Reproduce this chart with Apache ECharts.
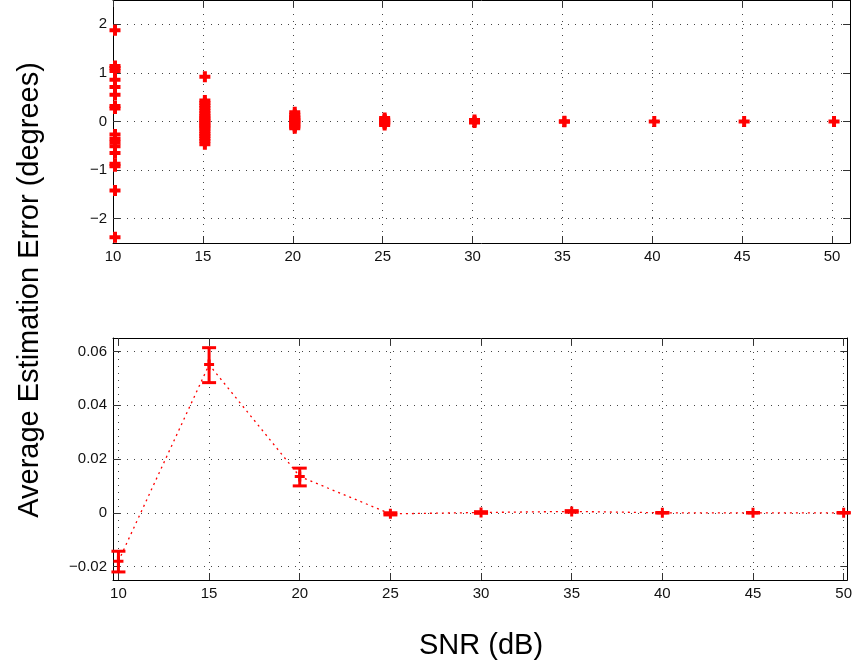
<!DOCTYPE html>
<html>
<head>
<meta charset="utf-8">
<script src="https://cdn.jsdelivr.net/npm/echarts@6/dist/echarts.min.js"></script>
<style>
html,body{margin:0;padding:0;background:#fff;}
#chart{width:855px;height:665px;}
</style>
</head>
<body>
<div id="chart"></div>
<script>
// ---- Data ----
const xTicks = [10, 15, 20, 25, 30, 35, 40, 45, 50];
const yTicksTop = [-2, -1, 0, 1, 2];
const yTicksBottom = [-0.02, 0, 0.02, 0.04, 0.06];

// Top plot: individual estimation errors (degrees) per SNR
const errSnr10 = [1.88, 1.14, 1.10, 1.04, 0.86, 0.71, 0.55, 0.32, 0.27, -0.27, -0.36, -0.43, -0.51, -0.65, -0.87, -0.92, -1.42, -2.38];
const errSnr15 = [0.92, 0.43, 0.38, 0.33, 0.28, 0.22, 0.17, 0.12, 0.08, 0.04, 0.01, -0.03, -0.07, -0.11, -0.15, -0.20, -0.25, -0.30, -0.35, -0.40, -0.47];
const errSnr20 = [0.19, 0.14, 0.10, 0.07, 0.04, 0.02, 0.00, -0.02, -0.05, -0.08, -0.11, -0.14];
const errSnr25 = [0.07, 0.04, 0.02, 0.00, -0.02, -0.04, -0.07];
const errSnr30 = [0.03, 0.00, -0.02];
const errSnr35 = [0.005, -0.005];
const errSnr40 = [0.0];
const errSnr45 = [0.0];
const errSnr50 = [0.0];

// Bottom plot: average error with error bars
const snr = [10, 15, 20, 25, 30, 35, 40, 45, 50];
const meanErr = [-0.0180, 0.0551, 0.0135, -0.0004, 0.0001, 0.0005, 0.0000, 0.0000, 0.0000];
const lowErr  = [-0.0220, 0.0484, 0.0100, -0.0008, -0.0002, 0.0002, -0.0001, -0.0001, -0.0001];
const highErr = [-0.0143, 0.0614, 0.0166, 0.0000, 0.0004, 0.0008, 0.0001, 0.0001, 0.0001];

// ---- Build ----
const topGroups = [errSnr10, errSnr15, errSnr20, errSnr25, errSnr30, errSnr35, errSnr40, errSnr45, errSnr50];
const scatterData = [];
topGroups.forEach((arr, i) => arr.forEach(v => scatterData.push([snr[i], v])));
const meanData = snr.map((s, i) => [s, meanErr[i]]);
const barData = snr.map((s, i) => [s, lowErr[i], highErr[i]]);

const RED = '#ff0000';
const FONT = 'Liberation Sans, Arial, Helvetica, sans-serif';
const plusThick = 'path://M3.5,0h4v3.5h3.5v4h-3.5v3.5h-4v-3.5h-3.5v-4h3.5z';
const plusThin = 'path://M3.5,0h3v3.5h3.5v3h-3.5v3.5h-3v-3.5h-3.5v-3h3.5z';

const gridLine = { show: true, lineStyle: { color: '#444', width: 1, type: [1, 6] } };
const axisLine = { show: true, onZero: false, lineStyle: { color: '#000', width: 1 } };

function xAx(gridIndex, min, max, position, labels) {
  return {
    type: 'value', gridIndex, min, max, position,
    axisLine,
    axisTick: { show: true, inside: true, length: 7, customValues: xTicks, lineStyle: { color: '#333', width: 1 } },
    axisLabel: { show: labels, customValues: xTicks, color: '#111', fontSize: 15, fontFamily: FONT, margin: 6 },
    splitLine: labels ? gridLine : { show: false },
    minorTick: { show: false }
  };
}
function yAx(gridIndex, min, max, ticks, position, labels, fmt) {
  return {
    type: 'value', gridIndex, min, max, position,
    axisLine,
    axisTick: { show: true, inside: true, length: 7, customValues: ticks, lineStyle: { color: '#333', width: 1 } },
    axisLabel: { show: labels, customValues: ticks, color: '#111', fontSize: 15, fontFamily: FONT, margin: 6, formatter: fmt },
    splitLine: labels ? gridLine : { show: false }
  };
}
const fmtTop = v => (v < 0 ? '\u2212' + Math.abs(v) : String(v));
const fmtBot = v => {
  if (Math.abs(v) < 1e-9) return '0';
  const s = Math.abs(v).toFixed(2);
  return (v < 0 ? '\u2212' : '') + s;
};

const chart = echarts.init(document.getElementById('chart'), null, { renderer: 'canvas' });
chart.setOption({
  backgroundColor: '#ffffff',
  animation: false,
  grid: [
    { left: 113, top: 0, width: 737, height: 243 },
    { left: 113, top: 338, width: 735, height: 242 }
  ],
  xAxis: [
    xAx(0, 10, 51, 'bottom', true),
    xAx(0, 10, 51, 'top', false),
    xAx(1, 9.7, 50.2, 'bottom', true),
    xAx(1, 9.7, 50.2, 'top', false)
  ],
  yAxis: [
    yAx(0, -2.5, 2.5, yTicksTop, 'left', true, fmtTop),
    yAx(0, -2.5, 2.5, yTicksTop, 'right', false, fmtTop),
    yAx(1, -0.025, 0.065, yTicksBottom, 'left', true, fmtBot),
    yAx(1, -0.025, 0.065, yTicksBottom, 'right', false, fmtBot)
  ],
  graphic: [
    {
      type: 'text', x: 30, y: 290, rotation: Math.PI / 2,
      style: { text: 'Average Estimation Error (degrees)', fill: '#000', font: '29px ' + FONT, textAlign: 'center', textVerticalAlign: 'middle' }
    },
    {
      type: 'text', x: 481, y: 646,
      style: { text: 'SNR (dB)', fill: '#000', font: '29px ' + FONT, textAlign: 'center', textVerticalAlign: 'middle' }
    }
  ],
  series: [
    {
      type: 'scatter', xAxisIndex: 0, yAxisIndex: 0,
      data: scatterData,
      symbol: plusThick, symbolSize: 11,
      symbolOffset: [2, 0],
      itemStyle: { color: RED, opacity: 1 },
      silent: true
    },
    {
      type: 'line', xAxisIndex: 2, yAxisIndex: 2,
      data: meanData,
      symbol: plusThin, symbolSize: 10, showSymbol: true,
      lineStyle: { color: RED, width: 1.3, type: [2, 4] },
      itemStyle: { color: RED },
      z: 2, silent: true
    },
    {
      type: 'custom', xAxisIndex: 2, yAxisIndex: 2,
      data: barData,
      z: 3, silent: true,
      renderItem: function (params, api) {
        const x = api.value(0), lo = api.value(1), hi = api.value(2);
        const pLo = api.coord([x, lo]);
        const pHi = api.coord([x, hi]);
        const hw = 7;
        const st = { stroke: RED, lineWidth: 3, fill: null };
        return {
          type: 'group',
          children: [
            { type: 'line', shape: { x1: pLo[0], y1: pLo[1], x2: pHi[0], y2: pHi[1] }, style: st },
            { type: 'line', shape: { x1: pLo[0] - hw, y1: pLo[1], x2: pLo[0] + hw, y2: pLo[1] }, style: st },
            { type: 'line', shape: { x1: pHi[0] - hw, y1: pHi[1], x2: pHi[0] + hw, y2: pHi[1] }, style: st }
          ]
        };
      }
    }
  ]
});
</script>
</body>
</html>
